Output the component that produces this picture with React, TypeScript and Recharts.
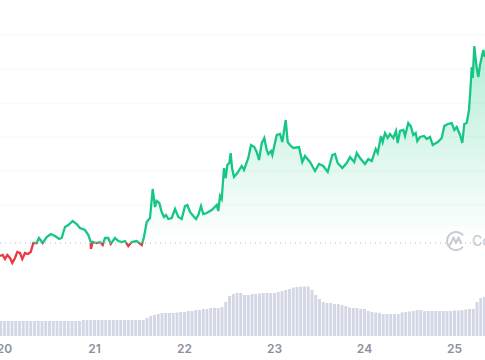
import { Area, Bar, CartesianGrid, ComposedChart, ReferenceLine, XAxis, YAxis } from 'recharts';

const GREEN = '#16c784';
const RED = '#ea3943';
const MUTED = '#8b90a0';

const dayLabels = ['20', '21', '22', '23', '24', '25'];
const dayTicks = [0, 24, 48, 72, 96, 120];
const gridValues = [131, 165, 199, 233, 267, 301];
const openingPrice = 93;

const priceHours = [
  -1.2, -0.48, 0.13, 0.75, 1.47, 2.08, 2.8, 3.41, 4.13, 4.75, 5.47, 6.27, 6.99, 7.68, 8.59, 9.2, 10.19, 11.25,
  12.32, 13.47, 14.61, 15.25, 16.13, 17.01, 18.19, 19.25, 20.13, 21.47, 22.35, 22.99, 23.04, 23.52, 24.59, 25.47,
  26.19, 26.8, 27.68, 28.32, 29.47, 30.35, 31.25, 32.13, 33.01, 33.92, 35.25, 36.59, 37.2, 37.92, 38.8, 39.52,
  40.13, 40.59, 41.28, 41.92, 42.53, 43.07, 43.68, 44.59, 45.47, 46.35, 47.25, 48.13, 48.75, 49.47, 50.35, 51.07,
  51.68, 52.4, 53.01, 53.92, 55.25, 56.59, 57.01, 57.47, 57.92, 58.53, 58.99, 59.41, 59.95, 60.32, 60.67, 61.2,
  62.08, 63.25, 63.87, 65.01, 65.73, 66.61, 67.25, 67.87, 68.59, 69.28, 69.92, 70.35, 71.07, 71.41, 72.59, 73.47,
  74.08, 74.99, 75.52, 76.13, 77.01, 78.53, 79.41, 80.13, 81.47, 82.8, 83.87, 85.01, 86.19, 87.41, 88.13, 88.85,
  90.08, 91.25, 92.13, 93.28, 93.92, 94.8, 96.13, 97.01, 97.92, 98.99, 99.52, 100.4, 100.85, 101.47, 102.19, 102.8,
  103.68, 104.4, 104.85, 105.47, 106.35, 106.8, 107.68, 108.32, 109.01, 109.65, 110.08, 110.8, 111.87, 112.59,
  113.47, 114.19, 115.52, 116.59, 117.28, 118.19, 119.25, 119.95, 120.59, 121.47, 122.08, 122.61, 123.25, 123.87,
  124.4, 124.59, 124.85, 125.28, 125.92, 126.35, 126.8, 127.68, 128.13,
];

const priceValues = [
  80, 81, 77, 81, 78, 73, 78, 84, 83, 77, 83, 82, 84, 93, 93, 98, 93, 99,
  102, 100, 97, 98, 109, 111, 115, 112, 108, 106, 101, 94, 87, 94, 93, 94,
  91, 98, 98, 92, 98, 95, 94, 95, 90, 94, 95, 91, 99, 114, 118, 147,
  129, 135, 133, 124, 119, 121, 117, 118, 127, 119, 117, 130, 131, 124, 120, 117,
  121, 130, 122, 123, 126, 131, 125, 140, 137, 168, 158, 171, 173, 183, 168, 159,
  163, 170, 166, 178, 191, 189, 184, 176, 193, 198, 186, 182, 185, 181, 201, 202,
  194, 216, 194, 191, 188, 189, 174, 180, 174, 165, 172, 170, 164, 181, 182, 173,
  168, 173, 179, 174, 183, 178, 172, 177, 175, 187, 183, 200, 194, 203, 198, 202,
  198, 205, 193, 205, 206, 200, 213, 210, 201, 203, 195, 199, 200, 197,
  199, 191, 194, 198, 210, 212, 213, 206, 209, 201, 193, 212, 213, 226,
  256, 269, 258, 290, 268, 259, 271, 286, 279,
];

// One volume bar per hour, starting at hour -1
const firstVolumeHour = -1;
const volumes = [
  15, 15, 15, 15, 15, 15, 15, 15, 15, 15, 15, 15, 15, 15, 15, 15, 15, 15, 15, 15, 15, 15,
  16, 16, 16, 16, 16, 16, 16, 16, 16, 16, 16, 16, 16, 16, 16, 16,
  16, 18, 20, 21, 22, 23, 23, 23, 23, 23.5, 24, 24, 25, 25, 26, 26, 27, 27, 28, 28, 28, 29,
  34, 40, 42, 43, 43, 41, 41, 42, 42, 42.5, 43, 43, 43, 43, 44, 45, 46, 47, 48.5, 49, 49.5, 49.5, 49.5,
  46, 41, 37, 34, 33, 33, 32, 32, 31, 30, 28.5, 28, 28, 27, 27, 25, 24, 23.5, 23, 22, 22, 22, 22, 22,
  23.5, 24, 24.5, 25, 26, 26, 25, 25, 25, 25, 25, 25, 25, 25, 25.5, 25.5, 26, 26.5, 27, 27, 34, 38, 39, 40,
];

type Row = { hour: number; price?: number; volume?: number };

const rows: Row[] = [
  ...priceHours.map((hour, i) => ({ hour, price: priceValues[i] })),
  ...volumes.map((volume, i) => ({ hour: firstVolumeHour + i, volume })),
].sort((a, b) => a.hour - b.hour);

const WIDTH = 485;
const HEIGHT = 360;
const PLOT_HEIGHT = 336;
const Y_MAX = 336;
const BAR_WIDTH = 2.9;
const splitOffset = 1 - openingPrice / Y_MAX;

// The price rows sit closer than an hour, so the band Recharts computes is too
// thin for a bar: keep its centre and height, use a fixed width.
function VolumeBar({ x, y, width, height }: any) {
  if (!height) return null;
  return <rect x={x + width / 2 - BAR_WIDTH / 2} y={y} width={BAR_WIDTH} height={height} fill="#d3d7e5" />;
}

function Watermark() {
  return (
    <g>
      <circle cx={456} cy={241} r={9} fill="none" stroke="#c9ccd4" strokeWidth={2} strokeDasharray="44 13" transform="rotate(40 456 241)" />
      <path d="M450 245 L453.5 237.5 L456 243 L458.5 237.5 L461 243" fill="none" stroke="#c9ccd4" strokeWidth={2} strokeLinejoin="round" strokeLinecap="round" />
      <text x={472} y={246} fontFamily="Inter, sans-serif" fontSize={14} fontWeight={500} fill="#c9ccd4">
        CoinMarketCap
      </text>
    </g>
  );
}

export default function App() {
  return (
    <div style={{ position: 'fixed', left: 0, top: 0, width: WIDTH, height: HEIGHT, background: '#fff' }}>
      <ComposedChart width={WIDTH} height={HEIGHT} data={rows} margin={{ top: 0, right: 0, bottom: 0, left: 0 }}>
        <defs>
          <linearGradient id="priceStroke" gradientUnits="userSpaceOnUse" x1={0} y1={0} x2={0} y2={PLOT_HEIGHT}>
            <stop offset={splitOffset} stopColor={GREEN} />
            <stop offset={splitOffset} stopColor={RED} />
          </linearGradient>
          <linearGradient id="priceFill" gradientUnits="userSpaceOnUse" x1={0} y1={46} x2={0} y2={243}>
            <stop offset={0} stopColor={GREEN} stopOpacity={0.32} />
            <stop offset={1} stopColor={GREEN} stopOpacity={0} />
          </linearGradient>
        </defs>
        <CartesianGrid vertical={false} stroke="#f6f6f8" horizontalValues={gridValues} />
        <XAxis
          dataKey="hour"
          type="number"
          domain={[-1.2, 128.13]}
          ticks={dayTicks}
          interval={0}
          tickFormatter={(hour: number) => dayLabels[dayTicks.indexOf(hour)]}
          tick={{ fill: MUTED, fontSize: 12, fontWeight: 600, fontFamily: 'Inter, sans-serif' }}
          tickLine={false}
          axisLine={false}
          height={HEIGHT - PLOT_HEIGHT}
          allowDataOverflow
        />
        <YAxis hide domain={[0, Y_MAX]} />
        <ReferenceLine y={openingPrice} stroke="#b4b8c2" strokeDasharray="1 4" />
        <Bar dataKey="volume" shape={VolumeBar} isAnimationActive={false} />
        <Area
          dataKey="price"
          type="linear"
          baseValue={openingPrice}
          connectNulls
          stroke="url(#priceStroke)"
          strokeWidth={2.3}
          fill="url(#priceFill)"
          fillOpacity={1}
          dot={false}
          activeDot={false}
          isAnimationActive={false}
        />
        <Watermark />
      </ComposedChart>
    </div>
  );
}
